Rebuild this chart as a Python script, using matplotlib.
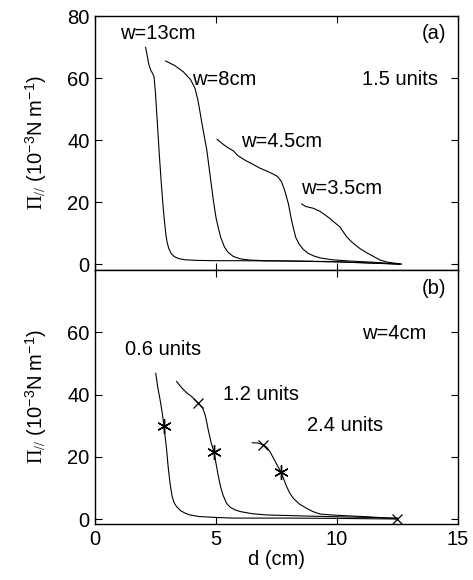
import matplotlib
matplotlib.use("Agg")
import matplotlib.pyplot as plt

plt.rcParams['font.family'] = ['Liberation Sans', 'DejaVu Sans']
plt.rcParams['mathtext.fontset'] = 'custom'
plt.rcParams['mathtext.rm'] = 'Liberation Serif'
plt.rcParams['mathtext.it'] = 'Liberation Serif:italic'
plt.rcParams['mathtext.sf'] = 'Liberation Sans'

# ---- Panel (a): 1.5 units, different widths ----
w13_d = [2.09, 2.15, 2.22, 2.30, 2.38, 2.44, 2.50, 2.58, 2.66, 2.74, 2.82, 2.88, 2.93,
         2.98, 3.05, 3.15, 3.28, 3.45, 3.7, 4.2, 5.0, 6.0, 8.0, 10.0, 12.6]
w13_v = [69.9, 67.5, 64.5, 62.6, 61.5, 60.4, 55.0, 45.0, 35.0, 26.0, 18.0, 13.0, 9.5,
         7.0, 5.0, 3.4, 2.4, 1.8, 1.4, 1.2, 1.1, 1.1, 1.0, 0.7, 0.0]

w8_d = [2.92, 3.30, 3.65, 3.95, 4.13, 4.25, 4.34, 4.45, 4.62, 4.75, 4.89, 5.00, 5.10,
        5.20, 5.35, 5.50, 5.71, 6.0, 6.4, 7.0, 8.0, 10.0, 12.6]
w8_v = [65.5, 64.0, 62.0, 59.5, 56.7, 53.0, 49.0, 44.0, 36.8, 29.0, 20.6, 15.0, 11.5,
        8.5, 5.5, 3.8, 2.5, 1.7, 1.3, 1.1, 1.0, 0.8, 0.0]

w45_d = [5.05, 5.30, 5.50, 5.72, 5.90, 6.20, 6.50, 6.80, 7.10, 7.37, 7.55, 7.71, 7.85,
         7.99, 8.10, 8.20, 8.30, 8.45, 8.60, 8.80, 9.05, 9.30, 9.8, 10.5, 11.5, 12.6]
w45_v = [40.2, 38.6, 37.5, 36.5, 35.0, 33.5, 32.3, 31.0, 30.0, 29.0, 28.2, 26.5, 23.5,
         19.5, 15.0, 11.5, 8.5, 6.3, 4.8, 3.5, 2.6, 2.0, 1.4, 1.0, 0.6, 0.0]

w35_d = [8.54, 8.70, 9.02, 9.30, 9.50, 9.71, 9.90, 10.12, 10.25, 10.40, 10.60, 10.80,
         10.95, 11.20, 11.50, 11.78, 12.10, 12.67]
w35_v = [19.4, 18.6, 18.0, 17.0, 15.9, 14.7, 13.4, 12.0, 10.5, 8.8, 7.2, 5.9,
         5.0, 3.8, 2.5, 1.3, 0.6, 0.0]

# ---- Panel (b): w=4cm, different amounts ----
u06_d = [2.51, 2.60, 2.69, 2.78, 2.85, 2.92, 2.96, 3.02, 3.10, 3.18, 3.27, 3.37, 3.55,
         3.75, 3.93, 4.3, 5.0, 5.7, 8.0, 10.0, 12.5]
u06_v = [46.8, 42.0, 38.3, 34.0, 29.9, 25.0, 22.2, 17.0, 11.5, 7.5, 5.2, 4.0, 2.6,
         1.8, 1.3, 0.8, 0.5, 0.3, 0.3, 0.2, 0.0]

u12_d = [3.37, 3.60, 3.80, 4.00, 4.27, 4.45, 4.55, 4.62, 4.68, 4.80, 4.92, 5.02, 5.10,
         5.20, 5.30, 5.44, 5.60, 5.80, 6.00, 6.50, 7.10, 9.0, 12.5]
u12_v = [44.2, 42.0, 40.5, 39.3, 37.2, 35.6, 33.5, 31.0, 28.6, 24.5, 21.5, 17.0, 13.6,
         10.0, 7.5, 5.0, 3.7, 2.9, 2.4, 1.7, 1.3, 0.9, 0.3]

u24_d = [6.50, 6.75, 6.96, 7.10, 7.23, 7.40, 7.55, 7.69, 7.80, 7.92, 8.05, 8.20, 8.45,
         8.75, 9.00, 9.30, 9.8, 10.5, 11.2, 12.49]
u24_v = [24.5, 24.4, 23.8, 23.0, 21.6, 19.2, 17.0, 15.0, 12.8, 10.4, 8.3, 6.6, 4.8,
         3.4, 2.4, 1.6, 1.3, 1.0, 0.75, 0.1]

star_d = [2.85, 4.92, 7.69]
star_v = [29.9, 21.5, 15.0]
cross_d = [4.27, 6.96, 12.49]
cross_v = [37.2, 23.8, 0.1]

xticks = [0, 5, 10, 15]
yticks = [0, 20, 40, 60, 80]

W, H = 473, 580
fig = plt.figure(figsize=(W / 100, H / 100), dpi=100)
L = 95 / W
Wd = (458 - 95) / W
axa = fig.add_axes([L, 1 - 270 / H, Wd, (270 - 16) / H])
axb = fig.add_axes([L, 1 - 524 / H, Wd, (524 - 270) / H])

FS = 14.5
lw = 0.8
for d, v in [(w13_d, w13_v), (w8_d, w8_v), (w45_d, w45_v), (w35_d, w35_v)]:
    axa.plot(d, v, color='black', lw=lw)
for d, v in [(u06_d, u06_v), (u12_d, u12_v), (u24_d, u24_v)]:
    axb.plot(d, v, color='black', lw=lw)
axb.plot(star_d, star_v, ls='none', marker=(6, 2, 0), ms=10.5, mew=1.0, color='black')
axb.plot(cross_d, cross_v, ls='none', marker='x', ms=7.5, mew=0.9, color='black')

axa.set_xlim(0, 15)
axa.set_ylim(-1.9, 80)
axb.set_xlim(0, 15)
axb.set_ylim(-1.6, 80)

for ax in (axa, axb):
    ax.set_xticks(xticks)
    ax.tick_params(direction='in', top=True, right=True, labelsize=FS,
                   length=5, width=0.8, pad=4)
    for s in ax.spines.values():
        s.set_linewidth(1.0)
    ax.set_ylabel(r'$\Pi_{//}$ $\mathsf{(10^{-3}N\ m^{-1})}$', fontsize=FS, labelpad=13)

axa.set_yticks(yticks)
axa.tick_params(labelbottom=False)
axb.set_yticks(yticks[:-1])
axb.set_xlabel('d (cm)', fontsize=FS, labelpad=1)

ta = dict(fontsize=FS, va='center', ha='left')
axa.text(1.03, 74.5, 'w=13cm', **ta)
axa.text(4.03, 59.4, 'w=8cm', **ta)
axa.text(6.02, 39.5, 'w=4.5cm', **ta)
axa.text(8.51, 24.4, 'w=3.5cm', **ta)
axa.text(11.05, 59.4, '1.5 units', **ta)
axa.text(14.53, 74.5, '(a)', fontsize=FS, va='center', ha='right')

axb.text(1.24, 54.5, '0.6 units', **ta)
axb.text(5.28, 39.9, '1.2 units', **ta)
axb.text(8.75, 29.9, '2.4 units', **ta)
axb.text(11.02, 59.7, 'w=4cm', **ta)
axb.text(14.53, 74.0, '(b)', fontsize=FS, va='center', ha='right')

fig.savefig('out.png', dpi=100)
